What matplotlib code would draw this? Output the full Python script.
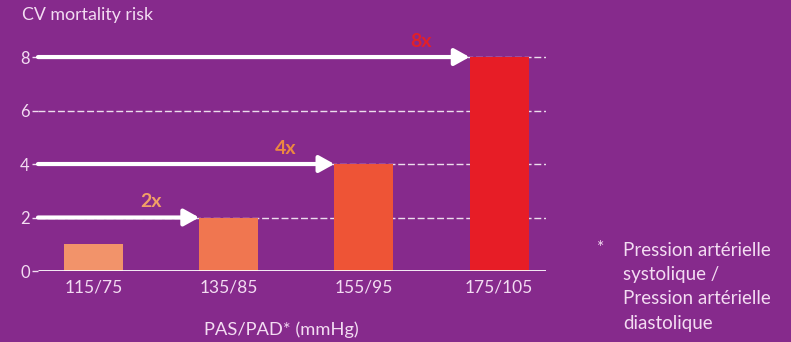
import matplotlib.pyplot as plt

plt.rcParams['font.family'] = ['Lato', 'DejaVu Sans']

categories = ["115/75", "135/85", "155/95", "175/105"]
risk = [1, 2, 4, 8]
multipliers = ["", "2x", "4x", "8x"]
yticks = [0, 2, 4, 6, 8]

bg = "#862a8c"
text_c = "#f3dcf2"
bar_colors = ["#f2936a", "#f07650", "#ee5436", "#e71d26"]
mult_colors = ["#f2a066", "#f2a066", "#ec8840", "#e1202a"]

fig = plt.figure(figsize=(7.91, 3.42), dpi=100, facecolor=bg)
ax = fig.add_axes([38 / 791, 71 / 342, (546 - 38) / 791, 230 / 342])
ax.set_facecolor(bg)

width = 0.436
x = list(range(len(categories)))
xmin, xmax = -0.41, 3.347
ax.set_xlim(xmin, xmax)
ax.set_ylim(0, 8.6)

# grid lines
for yv in yticks[1:]:
    ax.plot([xmin, xmax], [yv, yv], color="white", lw=1.0, ls=(0, (5, 2)), alpha=0.85, zorder=1)
ax.plot([xmin, xmax], [0, 0], color="white", lw=2.0, zorder=4, solid_capstyle="butt")

ax.bar(x, risk, width=width, color=bar_colors, zorder=3)

# arrows leading to each bar with its multiplier
for i in range(1, len(risk)):
    ax.annotate("", xy=(x[i] - width / 2, risk[i]), xytext=(xmin, risk[i]),
                arrowprops=dict(arrowstyle="-|>,head_length=0.9,head_width=0.5",
                                color="white", lw=3.0, shrinkA=0, shrinkB=0),
                zorder=5)
    ax.text(x[i] - width / 2 - 0.36, risk[i] + 0.28, multipliers[i],
            color=mult_colors[i], fontsize=14, fontweight="bold",
            ha="center", va="bottom", zorder=6)

for s in ax.spines.values():
    s.set_visible(False)

ax.set_yticks(yticks)
ax.set_yticklabels([str(v) for v in yticks])
ax.set_xticks(x)
ax.set_xticklabels(categories)
ax.tick_params(axis="y", colors=text_c, labelsize=12, length=4, width=1, pad=2)
ax.tick_params(axis="x", colors=text_c, labelsize=12.5, length=0, pad=6)

fig.text(22 / 791, 1 - 15 / 342, "CV mortality risk", color=text_c, fontsize=12.8,
         ha="left", va="center")
fig.text(281 / 791, 1 - 330 / 342, "PAS/PAD* (mmHg)", color=text_c, fontsize=13.2,
         ha="center", va="center")

fig.text(597 / 791, 1 - 248 / 342, "*", color=text_c, fontsize=12.5, ha="left", va="center")
for k, line in enumerate(["Pression artérielle", "systolique /",
                          "Pression artérielle", "diastolique"]):
    fig.text(623 / 791, 1 - (250 + 24.5 * k) / 342, line, color=text_c, fontsize=13.5,
             ha="left", va="center")

fig.savefig("out.png", dpi=100, facecolor=bg)
